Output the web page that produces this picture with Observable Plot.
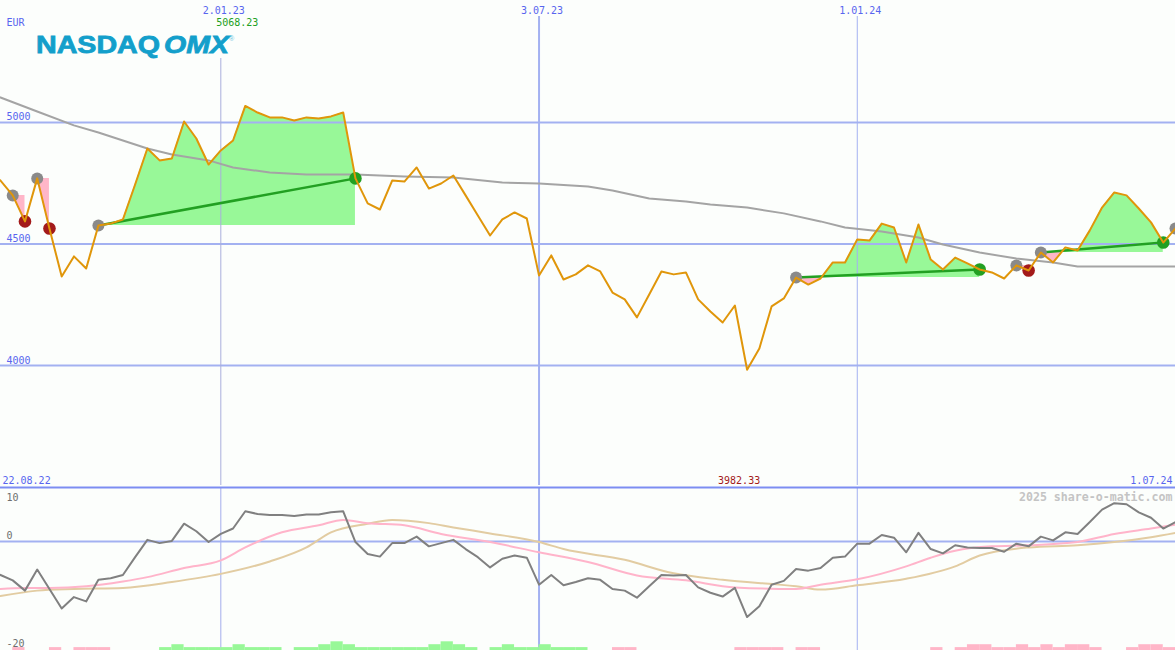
<!DOCTYPE html>
<html><head><meta charset="utf-8">
<script src="https://cdn.jsdelivr.net/npm/d3@7"></script>
<script src="https://cdn.jsdelivr.net/npm/@observablehq/plot@0.6"></script>
<style>
html,body{margin:0;padding:0;background:#fcfefc;}
#wrap{position:relative;width:1175px;height:650px;overflow:hidden;background:#fcfefc;}
#main{position:absolute;left:0;top:0;}
#lower{position:absolute;left:0;top:485px;}
#bars{position:absolute;left:0;top:640px;}
#logo{position:absolute;left:0;top:0;}
</style></head><body>
<div id="wrap"><div id="main"></div><div id="lower"></div><div id="bars"></div>
<svg id="logo" width="240" height="62">
<text x="36" y="53" font-family="Liberation Sans" font-weight="bold" font-size="24" fill="#139fcb" stroke="#139fcb" stroke-width="0.8" textLength="124" lengthAdjust="spacingAndGlyphs">NASDAQ</text>
<text x="164" y="53" font-family="Liberation Sans" font-weight="bold" font-style="italic" font-size="24" fill="#139fcb" stroke="#139fcb" stroke-width="0.8" textLength="65" lengthAdjust="spacingAndGlyphs">OMX</text>
<text x="229" y="41" font-family="Liberation Sans" font-size="7" fill="#6cc4e0">®</text>
</svg>
</div>
<script>
// ---------- data ----------
const firstWeek = "2022-08-22";          // weekly closes, one per Monday
const lastLabelDate = "2024-07-01";
const price = [4802, 4761, 4700, 4593, 4770, 4564, 4366, 4449, 4399, 4576,
  4584, 4601, 4745, 4893, 4844, 4852, 5004, 4934, 4827, 4885,
  4926, 5068.23, 5041, 5021, 5021, 5008, 5021, 5016, 5025, 5041,
  4770, 4667, 4642, 4761, 4757, 4815, 4728, 4749, 4782, 4700,
  4617, 4535, 4601, 4630, 4605, 4370, 4453, 4354, 4375, 4412,
  4387, 4300, 4272, 4198, 4292, 4387, 4375, 4383, 4272, 4222,
  4177, 4247, 3982.33, 4070, 4243, 4276, 4362, 4333, 4358, 4424,
  4424, 4519, 4514, 4584, 4568, 4424, 4580, 4436, 4395, 4444,
  4420, 4395, 4383, 4358, 4412, 4391, 4465, 4424, 4486, 4473,
  4556, 4650, 4712, 4700, 4646, 4589, 4506, 4564];
// long moving average (read at selected weeks)
const maWeeks = [0,1,4,7,9,13,15,18,20,23,26,30,34,38,42,45,49,51,54,57,59,62,65,68,70,73,76,78,81,84,87,89,97];
const maVals  = [5119,5103,5045,4988,4959,4893,4868,4844,4815,4794,4786,4786,4778,4774,4753,4749,4737,4720,4687,4675,4663,4650,4626,4593,4568,4551,4527,4498,4465,4440,4424,4407,4407];
// trades: entry week, exit week (null = open)
const entryWeeks = [2, 4, 9, 66, 84, 86, 97];
const exitWeeks  = [3, 5, 30, 81, 85, 96, null];
// oscillator panel
const osc = [-5.4, -6.2, -7.2, -9.1, -5.2, -8.8, -12.4, -10.3, -11.1, -7.1,
  -6.8, -6.2, -2.9, 0.3, -0.3, 0.1, 3.3, 1.9, -0.1, 1.4,
  2.4, 5.6, 5.1, 4.9, 4.9, 4.7, 5.0, 5.0, 5.4, 5.6,
  -0.1, -2.3, -2.8, -0.3, -0.3, 0.9, -0.9, -0.3, 0.3, -1.4,
  -2.9, -4.8, -3.2, -2.6, -3.0, -8.0, -6.2, -8.1, -7.5, -6.8,
  -7.1, -8.8, -9.1, -10.4, -8.3, -6.2, -6.3, -6.2, -8.5, -9.5,
  -10.2, -8.6, -14.0, -12.0, -8.0, -7.3, -5.1, -5.4, -4.9, -3.0,
  -2.8, -0.4, -0.4, 1.2, 0.7, -2.0, 1.6, -1.4, -2.2, -0.7,
  -1.1, -1.2, -1.2, -1.9, -0.4, -0.9, 0.9, 0.2, 1.7, 1.4,
  3.6, 5.9, 7.1, 6.9, 5.4, 4.4, 2.4, 3.6];
const pinkWeeks = [1,3,5,8,11,13,16,19,21,24,27,29,31,34,37,41,45,49,53,57,61,66,68,71,75,77,79,82,85,89,92,95,97];
const pinkVals  = [-8.8,-8.6,-8.6,-8.3,-7.4,-6.6,-4.9,-3.5,-1.1,1.7,3.0,4.0,3.4,3.0,1.4,-0.1,-2.0,-3.8,-6.3,-7.2,-8.5,-8.8,-8.0,-7.0,-4.6,-3.0,-1.7,-0.9,-0.7,-0.1,1.4,2.4,3.1];
const tanWeeks = [1,4,7,11,15,19,23,26,28,31,33,36,38,41,45,47,52,56,60,66,68,71,75,79,81,85,89,92,95,97];
const tanVals  = [-10.1,-9.1,-8.8,-8.6,-7.5,-6.0,-3.7,-1.1,1.7,3.3,4.0,3.4,2.6,1.5,-0.1,-1.4,-3.4,-5.9,-7.1,-8.3,-8.9,-8.1,-6.9,-4.6,-2.6,-1.1,-0.7,-0.1,0.8,1.6];
const barLevel = [0,0,-1,0,0,-1,0,-1,-1,-1,
  0,0,0,0,1,2,1,1,1,1,
  2,1,1,1,0,1,1,2,3,2,
  1,1,1,1,1,1,2,3,2,1,
  0,1,2,1,1,2,1,1,1,0,
  0,-1,-1,0,0,0,0,0,0,0,
  0,-1,-1,-1,-1,0,-1,-1,0,0,
  0,0,0,0,0,0,0,-1,0,-1,
  -2,-2,-1,-1,-2,-1,-2,-1,-2,-2,
  -1,0,0,-1,-2,-2,-1,0];
const gridDates = ["2023-01-02", "2023-07-03", "2024-01-01"];
const priceTicks = [5000, 4500, 4000];
const oscTicks = [10, 0, -20];
const currency = "EUR";
const credit = "2025 share-o-matic.com";

// ---------- helpers ----------
const DAY = 864e5;
const t0 = Date.parse(firstWeek + "T00:00:00Z");
const wk = i => new Date(t0 + i * 7 * DAY);
const dates = price.map((_, i) => wk(i));
const gDates = gridDates.map(s => new Date(s + "T00:00:00Z"));
const fmt = d3.utcFormat("%-d.%m.%y");
const xDomain = [new Date(Date.UTC(2022, 7, 29)), new Date(lastLabelDate + "T00:00:00Z")];

const BG = "#fcfefc", GRID = "#a3b1f1", BLUE = "#5865ef";
const FONT = "DejaVu Sans Mono";

const trades = entryWeeks.map((a, k) => ({k, a, b: exitWeeks[k]}));
const closed = trades.filter(t => t.b != null);
const fillPts = [];
closed.forEach(t => {
  const base = price[t.a];
  for (let i = t.a; i <= t.b; i++) {
    fillPts.push({k: t.k, date: dates[i], v: price[i], base});
    if (i < t.b) {
      const d0 = price[i] - base, d1 = price[i + 1] - base;
      if (d0 * d1 < 0) {
        const f = d0 / (d0 - d1);
        fillPts.push({k: t.k, date: new Date(+dates[i] + f * (dates[i + 1] - dates[i])), v: base, base});
      }
    }
  }
});
const wins = closed.filter(t => price[t.b] > price[t.a]);
const maxI = price.indexOf(d3.max(price));
const minI = price.indexOf(d3.min(price));
const maPts = maWeeks.map((w, j) => ({date: wk(w), v: maVals[j]}));
const pinkPts = pinkWeeks.map((w, j) => ({date: wk(w), v: pinkVals[j]}));
const tanPts = tanWeeks.map((w, j) => ({date: wk(w), v: tanVals[j]}));

const txt = {fontFamily: FONT, fontSize: 10};

// ---------- main panel ----------
const main = Plot.plot({
  width: 1175, height: 487, margin: 0,
  x: {type: "utc", domain: xDomain, axis: null},
  y: {domain: [3498, 5502], axis: null},
  style: {background: BG, overflow: "hidden", fontFamily: FONT, fontSize: "10px"},
  marks: [
    Plot.areaY(fillPts, {x: "date", y1: "base", y2: d => Math.max(d.v, d.base), z: "k", fill: "#98f898"}),
    Plot.areaY(fillPts, {x: "date", y1: "base", y2: d => Math.min(d.v, d.base), z: "k", fill: "#ffb6c8"}),
    Plot.ruleY(priceTicks, {stroke: GRID, strokeWidth: 2}),
    Plot.ruleX(gDates.slice(0, 1), {stroke: "#a9aedc", strokeWidth: 1, insetTop: 58}),
    Plot.ruleX(gDates.slice(1, 2), {stroke: GRID, strokeWidth: 2, insetTop: 16}),
    Plot.ruleX(gDates.slice(2), {stroke: GRID, strokeWidth: 1, insetTop: 16}),
    Plot.line(maPts, {x: "date", y: "v", stroke: "#a4a4a4", strokeWidth: 2}),
    Plot.link(wins, {x1: t => dates[t.a], y1: t => price[t.a], x2: t => dates[t.b], y2: t => price[t.b], stroke: "#22a022", strokeWidth: 2.5}),
    Plot.dot(entryWeeks, {x: i => dates[i], y: i => price[i], r: 6, fill: "#8a8a8a"}),
    Plot.dot(closed, {x: t => dates[t.b], y: t => price[t.b], r: 6.3, fill: t => price[t.b] > price[t.a] ? "#22a022" : "#a31a1a"}),
    Plot.line(price, {x: (d, i) => dates[i], y: d => d, stroke: "#e0960a", strokeWidth: 2}),
    Plot.text(gDates, {x: d => d, text: fmt, frameAnchor: "top", dy: 13, dx: 3, lineAnchor: "bottom", fill: BLUE, ...txt}),
    Plot.text(priceTicks, {y: d => d, text: d => String(d), frameAnchor: "left", textAnchor: "start", dx: 6, dy: -2, lineAnchor: "bottom", fill: BLUE, ...txt}),
    Plot.text([currency], {text: d => d, frameAnchor: "top-left", textAnchor: "start", dx: 6, dy: 25.5, lineAnchor: "bottom", fill: BLUE, ...txt}),
    Plot.text([maxI], {x: i => dates[i], text: i => price[i].toFixed(2), frameAnchor: "top", dx: -8, dy: 25.5, lineAnchor: "bottom", fill: "#22a022", ...txt}),
    Plot.text([minI], {x: i => dates[i], text: i => price[i].toFixed(2), frameAnchor: "bottom", dx: -8, dy: -3.5, lineAnchor: "bottom", fill: "#a31a1a", ...txt}),
    Plot.text([fmt(dates[0])], {text: d => d, frameAnchor: "bottom-left", textAnchor: "start", dx: 2, dy: -3.5, lineAnchor: "bottom", fill: BLUE, ...txt}),
    Plot.text([fmt(new Date(lastLabelDate + "T00:00:00Z"))], {text: d => d, frameAnchor: "bottom-right", textAnchor: "end", dx: -3, dy: -3.5, lineAnchor: "bottom", fill: BLUE, ...txt})
  ]
});
document.getElementById("main").append(main);

// ---------- oscillator panel ----------
const lower = Plot.plot({
  width: 1175, height: 165, marginTop: 2, marginBottom: 0, marginLeft: 0, marginRight: 0,
  x: {type: "utc", domain: xDomain, axis: null},
  y: {domain: [-20.19, 10], axis: null},
  style: {background: BG, overflow: "hidden", fontFamily: FONT, fontSize: "10px"},
  marks: [
    Plot.ruleX(gDates.slice(0, 1), {stroke: "#a4acec", strokeWidth: 1}),
    Plot.ruleX(gDates.slice(1, 2), {stroke: GRID, strokeWidth: 2}),
    Plot.ruleX(gDates.slice(2), {stroke: GRID, strokeWidth: 1}),
    Plot.ruleY([0], {stroke: GRID, strokeWidth: 2}),
    Plot.ruleY([10], {stroke: "#7d8df2", strokeWidth: 2}),
    Plot.line(tanPts, {x: "date", y: "v", stroke: "#e2cca2", strokeWidth: 2, curve: "monotone-x"}),
    Plot.line(pinkPts, {x: "date", y: "v", stroke: "#ffb4ca", strokeWidth: 2, curve: "monotone-x"}),
    Plot.line(osc, {x: (d, i) => dates[i], y: d => d, stroke: "#808080", strokeWidth: 2}),
    Plot.text(oscTicks.slice(0, 1), {y: d => d, text: d => String(d), frameAnchor: "left", textAnchor: "start", dx: 6, dy: 13.5, lineAnchor: "bottom", fill: "#6e6e6e", ...txt}),
    Plot.text(oscTicks.slice(1), {y: d => d, text: d => String(d), frameAnchor: "left", textAnchor: "start", dx: 6, dy: -2.5, lineAnchor: "bottom", fill: "#6e6e6e", ...txt}),
    Plot.text([credit], {text: d => d, frameAnchor: "top-right", textAnchor: "end", dx: -3, dy: 13.5, lineAnchor: "bottom", fill: "#c4c4c4", fontWeight: "bold", fontFamily: FONT, fontSize: 11.6})
  ]
});
document.getElementById("lower").append(lower);

// ---------- signal bars ----------
const barData = barLevel.map((l, i) => ({i, l})).filter(d => d.l !== 0);
const bars = Plot.plot({
  width: 1175, height: 10, margin: 0,
  x: {type: "utc", domain: xDomain, axis: null},
  y: {domain: [0, 3.45], axis: null},
  style: {background: "transparent", overflow: "hidden"},
  marks: [
    Plot.rect(barData, {x1: d => dates[d.i], x2: d => wk(d.i + 1), y1: 0, y2: d => Math.abs(d.l), fill: d => d.l > 0 ? "#98f898" : "#ffb6c8"})
  ]
});
document.getElementById("bars").append(bars);
</script>
</body></html>
